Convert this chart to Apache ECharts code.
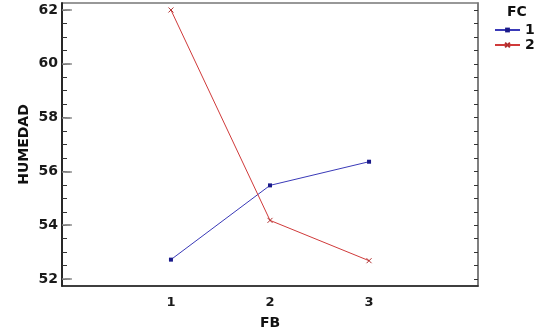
<!DOCTYPE html>
<html>
<head>
<meta charset="utf-8">
<script src="https://cdn.jsdelivr.net/npm/echarts@6/dist/echarts.min.js"></script>
<style>
  html, body { margin: 0; padding: 0; background: #fff; }
  #chart { width: 545px; height: 335px; }
</style>
</head>
<body>
<div id="chart"></div>
<script>
// FB levels on the horizontal axis
const fbLevels = [1, 2, 3];
// Mean HUMEDAD for each FC group
const fc1Values = [52.72, 55.48, 56.36];
const fc2Values = [62.0, 54.18, 52.68];
const seriesNames = ['1', '2'];
// Tick labels of the vertical axis
const yTickLabels = [52, 54, 56, 58, 60, 62];
const yMinorTicks = [];
for (let v = 52; v <= 62; v += 0.5) yMinorTicks.push(v);

const yMin = 51.74, yMax = 62.26;
const font = '"DejaVu Sans", Arial, sans-serif';

const crossPath = 'path://M0,0 L10,10 M10,0 L0,10';

const chart = echarts.init(document.getElementById('chart'), null, { renderer: 'canvas' });

function yAxisBase(position, extra) {
  return Object.assign({
    type: 'value',
    position: position,
    min: yMin,
    max: yMax,
    splitLine: { show: false },
    axisLine: { show: true, onZero: false, lineStyle: { color: '#222', width: 1.5 } },
    axisLabel: { show: false },
    axisTick: { show: false }
  }, extra);
}

chart.setOption({
  animation: false,
  backgroundColor: '#ffffff',
  title: {
    text: 'FC',
    left: 507,
    top: 5,
    padding: 0,
    textStyle: { fontFamily: font, fontSize: 14, fontWeight: 'bold', color: '#111' }
  },
  legend: {
    orient: 'vertical',
    left: 494,
    top: 23,
    padding: 0,
    itemWidth: 25,
    itemHeight: 6,
    itemGap: 1,
    data: seriesNames,
    textStyle: { fontFamily: font, fontSize: 14, fontWeight: 'bold', color: '#111', padding: [0, 0, 0, 0] }
  },
  grid: { left: 62, right: 67, top: 3, bottom: 48, containLabel: false,
          show: true, borderColor: '#777', borderWidth: 1.5 },
  xAxis: {
    type: 'value',
    min: -0.1,
    max: 4.1,
    name: 'FB',
    nameLocation: 'middle',
    nameGap: 30,
    nameMoveOverlap: false,
    nameTextStyle: { fontFamily: font, fontSize: 14, fontWeight: 'bold', color: '#111' },
    splitLine: { show: false },
    axisLine: { show: true, onZero: false, lineStyle: { color: '#222', width: 1.5 } },
    axisTick: { show: false },
    axisLabel: {
      customValues: fbLevels,
      margin: 10,
      fontFamily: font, fontSize: 13, fontWeight: 'bold', color: '#1a1a1a'
    }
  },
  yAxis: [
    // left axis: labels, name and minor ticks
    yAxisBase('left', {
      name: 'HUMEDAD',
      nameLocation: 'middle',
      nameGap: 31,
      nameMoveOverlap: false,
      nameTextStyle: { fontFamily: font, fontSize: 14, fontWeight: 'bold', color: '#111' },
      axisLabel: {
        show: true, customValues: yTickLabels, margin: 4,
        fontFamily: font, fontSize: 14, fontWeight: 'bold', color: '#1a1a1a'
      },
      axisTick: { show: true, inside: true, length: 5, customValues: yMinorTicks,
                  lineStyle: { color: '#333', width: 1 } }
    }),
    // left axis: longer major ticks
    yAxisBase('left', {
      axisTick: { show: true, inside: true, length: 8, customValues: yTickLabels,
                  lineStyle: { color: '#888', width: 1.5 } }
    }),
    // right axis: minor ticks
    yAxisBase('right', {
      axisLine: { show: true, onZero: false, lineStyle: { color: '#777', width: 1.5 } },
      axisTick: { show: true, inside: true, length: 4, customValues: yMinorTicks,
                  lineStyle: { color: '#333', width: 1 } }
    }),
    // right axis: major ticks
    yAxisBase('right', {
      axisLine: { show: false },
      axisTick: { show: true, inside: true, length: 7, customValues: yTickLabels,
                  lineStyle: { color: '#888', width: 1.5 } }
    })
  ],
  series: [
    {
      name: seriesNames[0],
      type: 'line',
      yAxisIndex: 0,
      data: fbLevels.map((x, i) => [x, fc1Values[i]]),
      symbol: 'rect',
      symbolSize: 4,
      showAllSymbol: true,
      lineStyle: { color: '#3a3ab8', width: 1 },
      itemStyle: { color: '#1a1a8a' }
    },
    {
      name: seriesNames[1],
      type: 'line',
      yAxisIndex: 0,
      data: fbLevels.map((x, i) => [x, fc2Values[i]]),
      symbol: crossPath,
      symbolSize: 5,
      showAllSymbol: true,
      lineStyle: { color: '#d03a3a', width: 1 },
      itemStyle: { color: '#d03a3a', borderColor: '#b03030', borderWidth: 1 }
    }
  ]
});
</script>
</body>
</html>
